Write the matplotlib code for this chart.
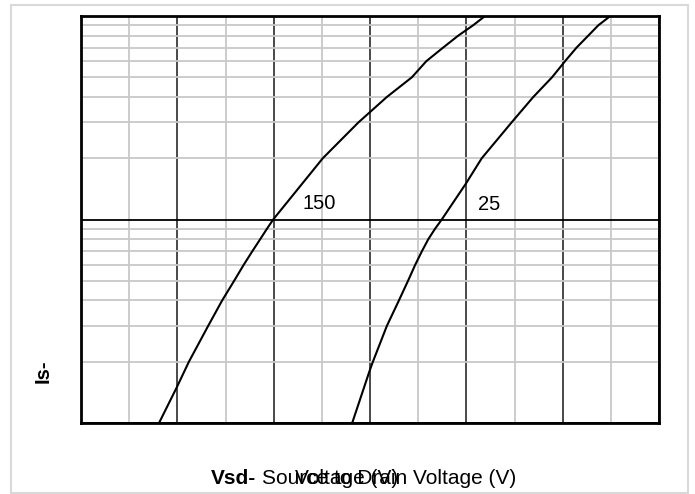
import matplotlib
matplotlib.use("Agg")
import matplotlib.pyplot as plt
from matplotlib.patches import Rectangle
from matplotlib.ticker import MultipleLocator, LogLocator, NullFormatter

plt.rcParams['font.family'] = ['Liberation Sans', 'DejaVu Sans']

# source current (A) vs source-drain voltage (V) for the two temperatures
is_150 = [1, 1.5, 2, 3, 4, 5, 6, 7, 8, 9, 10, 20, 30, 40, 50, 60, 70, 80, 90, 100]
vsd_150 = [0.162, 0.199, 0.224, 0.264, 0.293, 0.318, 0.338, 0.356, 0.372, 0.386,
           0.399, 0.502, 0.576, 0.635, 0.687, 0.717, 0.752, 0.783, 0.814, 0.839]

is_25 = [1, 1.8, 2, 3, 4, 5, 6, 7, 8, 9, 10, 15, 20, 30, 40, 50, 60, 70, 80, 90, 100]
vsd_25 = [0.563, 0.599, 0.606, 0.635, 0.660, 0.679, 0.694, 0.708, 0.721, 0.735,
          0.749, 0.799, 0.832, 0.894, 0.939, 0.978, 1.005, 1.029, 1.053, 1.074, 1.099]

W, H = 695, 494
fig = plt.figure(figsize=(W / 100, H / 100), dpi=100)
ax = fig.add_axes([81 / W, 1 - 423 / H, (659 - 81) / W, (423 - 16) / H])

ax.set_xlim(0, 1.2)
ax.set_ylim(1, 100)
ax.set_yscale('log')

ax.xaxis.set_major_locator(MultipleLocator(0.2))
ax.xaxis.set_minor_locator(MultipleLocator(0.1))
ax.yaxis.set_major_locator(LogLocator(base=10))
ax.yaxis.set_minor_locator(LogLocator(base=10, subs=range(2, 10)))
ax.xaxis.set_major_formatter(NullFormatter())
ax.yaxis.set_major_formatter(NullFormatter())
ax.yaxis.set_minor_formatter(NullFormatter())
ax.tick_params(which='both', length=0)

ax.grid(which='minor', color='#c8c8c8', linewidth=1.3)
ax.grid(which='major', axis='x', color='#3a3a3a', linewidth=1.3)
ax.grid(which='major', axis='y', color='black', linewidth=1.3)
ax.set_axisbelow(True)

for s in ax.spines.values():
    s.set_linewidth(2)
    s.set_color('black')

ax.plot(vsd_150, is_150, color='black', linewidth=1.5)
ax.plot(vsd_25, is_25, color='black', linewidth=1.5)

ax.text(302 / W, 1 - 203 / H, '150', transform=fig.transFigure, fontsize=14.5, va='center', ha='left')
ax.text(478 / W, 1 - 205 / H, '25', transform=fig.transFigure, fontsize=14.5, va='center', ha='left')

# x label: bold prefix, plain text, and the stray centred "Voltage (V)" seen in the original
fig.text(211 / W, 1 - 478 / H, 'Vsd-', fontsize=15, fontweight='bold', va='center', ha='left')
fig.text(262 / W, 1 - 478 / H, 'Source to Drain Voltage (V)', fontsize=15, va='center', ha='left')
fig.text(347 / W, 1 - 478 / H, 'Voltage (V)', fontsize=15, va='center', ha='center')

fig.text(43 / W, 1 - 371 / H, 'Is-', fontsize=14.5, fontweight='bold', rotation=90, va='center', ha='center')

fig.patches.append(Rectangle((11 / W, 1 - 493 / H), (688 - 11) / W, (493 - 5) / H,
                             transform=fig.transFigure, fill=False, edgecolor='#d9d9d9', linewidth=1.5))

fig.savefig('out.png', dpi=100)
